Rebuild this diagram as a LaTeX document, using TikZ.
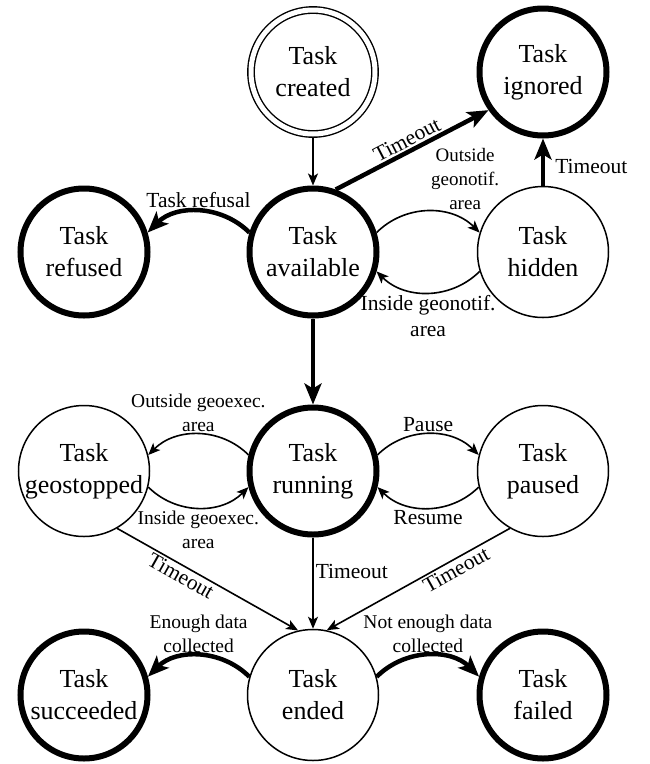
\documentclass[tikz,border=0pt]{standalone}
\usepackage{fontspec}
\setmainfont{Liberation Serif}
\usetikzlibrary{arrows.meta}

\begin{document}
\begin{tikzpicture}[x=1pt,y=1pt,
    tsstate/.style={draw,circle,line width=1.5pt,minimum size=131pt,inner sep=0pt,
        align=center,font=\fontsize{26}{32}\selectfont},
    tsfinal/.style={tsstate,line width=6pt,minimum size=127pt},
    tsstart/.style={tsstate,double,line width=1.4pt,double distance=5pt,
        minimum size=124pt,outer sep=4pt},
    tsedge/.style={-{Stealth[length=12pt,width=10pt,inset=3pt]},line width=1.6pt},
    tsmajor/.style={-{Stealth[length=21pt,width=17pt,inset=5pt]},line width=4.5pt},
    tslabel/.style={font=\fontsize{21.5}{26}\selectfont,align=center,inner sep=2pt},
    tssmall/.style={tslabel,font=\fontsize{19.5}{24}\selectfont}
]
\useasboundingbox (0,0) rectangle (649,-764);
% states
\node[tsstart] (created) at (313,-72) {Task\\created};
\node[tsfinal] (ignored) at (543,-72) {Task\\ignored};
\node[tsfinal] (refused) at (84,-252) {Task\\refused};
\node[tsfinal] (available) at (313,-252) {Task\\available};
\node[tsstate] (hidden) at (543,-252) {Task\\hidden};
\node[tsstate] (geostop) at (84,-471) {Task\\geostopped};
\node[tsfinal] (running) at (313,-471) {Task\\running};
\node[tsstate] (paused) at (543,-471) {Task\\paused};
\node[tsfinal] (succeeded) at (84,-695) {Task\\succeeded};
\node[tsstate] (ended) at (313,-695) {Task\\ended};
\node[tsfinal] (failed) at (543,-695) {Task\\failed};
% transitions
\draw[tsedge] (created) -- (available);
\draw[tsmajor] (available.70) -- node[tslabel,above,sloped] {Timeout} (ignored.215);
\draw[tsmajor] (hidden) -- node[tslabel,right,pos=0.4,xshift=8pt] {Timeout} (ignored);
\draw[tsmajor] (available.163) to[out=135,in=45]
    node[tslabel,above] {Task refusal} (refused.17);
\draw[tsedge] (available.17) to[out=45,in=135]
    node[tssmall,above,xshift=37pt,inner sep=1pt,font=\fontsize{19}{24}\selectfont]
    {Outside\\geonotif.\\area} (hidden.163);
\draw[tsedge] (hidden.197) to[out=-135,in=-45]
    node[tslabel,below] {Inside geonotif.\\area} (available.-17);
\draw[tsmajor] (available) -- (running);
\draw[tsedge] (running.166) to[out=135,in=45]
    node[tssmall,above] {Outside geoexec.\\area} (geostop.14);
\draw[tsedge] (geostop.-14) to[out=-45,in=-135]
    node[tssmall,below] {Inside geoexec.\\area} (running.194);
\draw[tsedge] (running.14) to[out=45,in=135]
    node[tslabel,above] {Pause} (paused.166);
\draw[tsedge] (paused.194) to[out=-135,in=-45]
    node[tslabel,below] {Resume} (running.-14);
\draw[tsedge] (geostop.300) -- node[tslabel,below,sloped,pos=0.38] {Timeout} (ended.103);
\draw[tsedge] (running) -- node[tslabel,right,pos=0.37] {Timeout} (ended);
\draw[tsedge] (paused.240) -- node[tslabel,below,sloped,pos=0.32] {Timeout} (ended.78);
\draw[tsmajor] (ended.164) to[out=135,in=45]
    node[tssmall,above,inner sep=1pt] {Enough data\\collected} (succeeded.16);
\draw[tsmajor] (ended.16) to[out=45,in=135]
    node[tssmall,above,inner sep=1pt] {Not enough data\\collected} (failed.164);
\end{tikzpicture}
\end{document}
